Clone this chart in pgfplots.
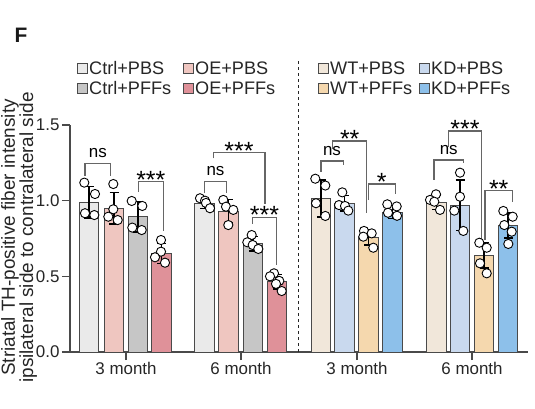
\documentclass[border=0pt]{standalone}
\usepackage{fontspec}
\setmainfont{Liberation Sans}
\usepackage{pgfplots}
\pgfplotsset{compat=1.18}
\definecolor{cCP}{HTML}{EAEAEA}
\definecolor{cOP}{HTML}{EFC6C0}
\definecolor{cCF}{HTML}{C6C6C6}
\definecolor{cOF}{HTML}{DF9199}
\definecolor{cWP}{HTML}{F1E7DA}
\definecolor{cKP}{HTML}{C9D9EE}
\definecolor{cWF}{HTML}{F5D8AE}
\definecolor{cKF}{HTML}{8DC0EA}
\definecolor{barline}{HTML}{4A4A4A}
\definecolor{brk}{HTML}{666666}
\newcommand{\fs}{\fontsize{17}{20}\selectfont}
\newcommand{\fl}{\fontsize{18.2}{20}\selectfont}
\newcommand{\st}[1]{\fontsize{25}{25}\selectfont\raisebox{-0.43em}[0.3em][0pt]{#1}}
\pgfplotsset{
  mybar/.style={ybar, bar shift=0pt, bar width=19.5, fill=#1, draw=barline, line width=0.9bp,
    error bars/.cd, y dir=both, y explicit,
    error bar style={black, line width=1.5bp},
    error mark options={black, rotate=90, mark size=4.5bp, line width=1.5bp}},
  mypts/.style={only marks, mark=*, mark size=4.6bp, mark options={fill=white, draw=black, line width=0.9bp}},
}
\newcommand{\brkt}[5]{% x1 x2 ytop yl yr
  \draw[brk, line width=1.2bp] (axis cs:#1,#4) -- (axis cs:#1,#3) -- (axis cs:#2,#3) -- (axis cs:#2,#5);}
\begin{document}
\begin{tikzpicture}
\begin{axis}[
  scale only axis, width=458bp, height=227bp,
  xmin=70, xmax=528, ymin=0, ymax=1.5,
  axis lines*=left, clip=false,
  axis line style={barline, line width=1.1bp},
  tick style={barline, line width=1.1bp},
  tick align=outside, major tick length=8bp,
  ytick={0,0.5,1,1.5},
  yticklabel style={font=\fs, text=black!85, xshift=1bp, /pgf/number format/.cd, fixed, fixed zerofill, precision=1, assume math mode=true},
  xtick={126,241,357,472},
  xticklabels={3 month,6 month,3 month,6 month},
  xticklabel style={font=\fs, text=black!85, yshift=1bp},
]
% bars
\addplot[mybar=cCP] coordinates {(89,0.99) +- (0,0.105) (204.5,0.98) +- (0,0.031)};
\addplot[mybar=cOP] coordinates {(114,0.95) +- (0,0.104) (228.5,0.93) +- (0,0.078)};
\addplot[mybar=cCF] coordinates {(138,0.894) +- (0,0.102) (253,0.715) +- (0,0.047)};
\addplot[mybar=cOF] coordinates {(161.5,0.652) +- (0,0.066) (277,0.463) +- (0,0.048)};
\addplot[mybar=cWP] coordinates {(321,1.013) +- (0,0.122) (436.5,0.989) +- (0,0.049)};
\addplot[mybar=cKP] coordinates {(344.5,0.983) +- (0,0.05) (460,0.97) +- (0,0.166)};
\addplot[mybar=cWF] coordinates {(368.5,0.758) +- (0,0.05) (484,0.639) +- (0,0.083)};
\addplot[mybar=cKF] coordinates {(392.5,0.925) +- (0,0.043) (508,0.835) +- (0,0.083)};
% individual points
\addplot[mypts] coordinates {(84.3,1.119) (95,1.044) (85,0.917) (94.3,0.905)};
\addplot[mypts] coordinates {(113.3,1.11) (113.3,0.943) (108.3,0.894) (117.7,0.872)};
\addplot[mypts] coordinates {(131.7,0.998) (142.3,0.965) (132.3,0.822) (141.7,0.806)};
\addplot[mypts] coordinates {(161,0.74) (161,0.663) (155,0.626) (165,0.59)};
\addplot[mypts] coordinates {(200,1.016) (205,1.0) (206,0.985) (210,0.95)};
\addplot[mypts] coordinates {(223.3,1.005) (226,0.96) (233.3,0.939) (228.3,0.839)};
\addplot[mypts] coordinates {(251.7,0.773) (247.3,0.725) (252.7,0.707) (258.3,0.681)};
\addplot[mypts] coordinates {(274,0.52) (270,0.50) (279.3,0.47) (276,0.45) (281.7,0.403)};
\addplot[mypts] coordinates {(315.3,1.145) (325.3,1.10) (316,0.983) (325.3,0.899)};
\addplot[mypts] coordinates {(342.3,1.055) (339,0.971) (345,0.965) (348.3,0.934)};
\addplot[mypts] coordinates {(364,0.80) (371.7,0.784) (363.3,0.762) (373.3,0.689)};
\addplot[mypts] coordinates {(387.3,0.976) (396.7,0.962) (388,0.92) (397,0.90)};
\addplot[mypts] coordinates {(436,1.042) (430,1.005) (434.3,0.993) (440,0.939)};
\addplot[mypts] coordinates {(460,1.185) (460,1.026) (454.3,0.934) (463.3,0.80)};
\addplot[mypts] coordinates {(479.3,0.722) (486.7,0.689) (480,0.586) (486.7,0.52)};
\addplot[mypts] coordinates {(503.3,0.932) (512.7,0.894) (504.3,0.839) (511.7,0.795) (508.3,0.714)};
% brackets
\brkt{85}{110.7}{1.247}{1.163}{1.163}
\node[anchor=base, inner sep=0pt, font=\fs] at (axis cs:97.8,1.285) {ns};
\brkt{138.3}{163.3}{1.125}{1.059}{0.80}
\node[anchor=south, inner sep=0pt] at (axis cs:150.8,1.152) {\st{***}};
\brkt{204.3}{226.7}{1.125}{1.049}{1.049}
\node[anchor=base, inner sep=0pt, font=\fs] at (axis cs:215.5,1.163) {ns};
\brkt{213.3}{265}{1.317}{1.28}{0.978}
\node[anchor=south, inner sep=0pt] at (axis cs:239,1.343) {\st{***}};
\brkt{252.3}{276.7}{0.89}{0.846}{0.575}
\node[anchor=south, inner sep=0pt] at (axis cs:264.5,0.917) {\st{***}};
\brkt{321}{343.3}{1.262}{1.191}{1.236}
\node[anchor=base, inner sep=0pt, font=\fs] at (axis cs:332,1.30) {ns};
\brkt{332.7}{366.7}{1.394}{1.341}{0.92}
\node[anchor=south, inner sep=0pt] at (axis cs:349.7,1.421) {\st{**}};
\brkt{368.3}{395.3}{1.11}{1.004}{1.044}
\node[anchor=south, inner sep=0pt] at (axis cs:381.8,1.137) {\st{*}};
\brkt{434}{463.3}{1.269}{1.137}{1.247}
\node[anchor=base, inner sep=0pt, font=\fs] at (axis cs:448.7,1.306) {ns};
\brkt{448.3}{481.7}{1.46}{1.357}{0.74}
\node[anchor=south, inner sep=0pt] at (axis cs:465,1.487) {\st{***}};
\brkt{485}{512.3}{1.066}{0.74}{0.993}
\node[anchor=south, inner sep=0pt] at (axis cs:498.7,1.092) {\st{**}};
% divider
\draw[black!85, line width=1.6bp, dash pattern=on 3.2bp off 2.8bp] (axis cs:298.5,0) -- (axis cs:298.5,1.93);
\end{axis}
% y label
\node[rotate=90, align=center, font=\fontsize{19}{18.3}\selectfont, text=black!85] at (-51bp,114.5bp)
  {Striatal TH-positive fiber intensity\\ipsilateral side to contralateral side};
% panel letter
\node[font=\fontsize{21}{21}\selectfont\bfseries, text=black!90] at (-49bp,317bp) {F};
% legends
\foreach \c/\t/\x/\y in {cCP/Ctrl+PBS/7/283.7, cCF/Ctrl+PFFs/7/263.7, cOP/OE+PBS/113/283.7, cOF/OE+PFFs/113/263.7,
  cWP/WT+PBS/248/283.7, cWF/WT+PFFs/248/263.7, cKP/KD+PBS/349/283.7, cKF/KD+PFFs/349/263.7} {
  \draw[barline, line width=0.8bp, fill=\c] (\x bp,\y bp-5bp) rectangle ++(10bp,10bp);
  \node[anchor=west, inner sep=0pt, font=\fl, text=black!85] at (\x bp+12bp,\y bp) {\t};
}
\pgfresetboundingbox
\path[use as bounding box] (-70bp,-57bp) rectangle (465bp,352bp);
\end{tikzpicture}
\end{document}
